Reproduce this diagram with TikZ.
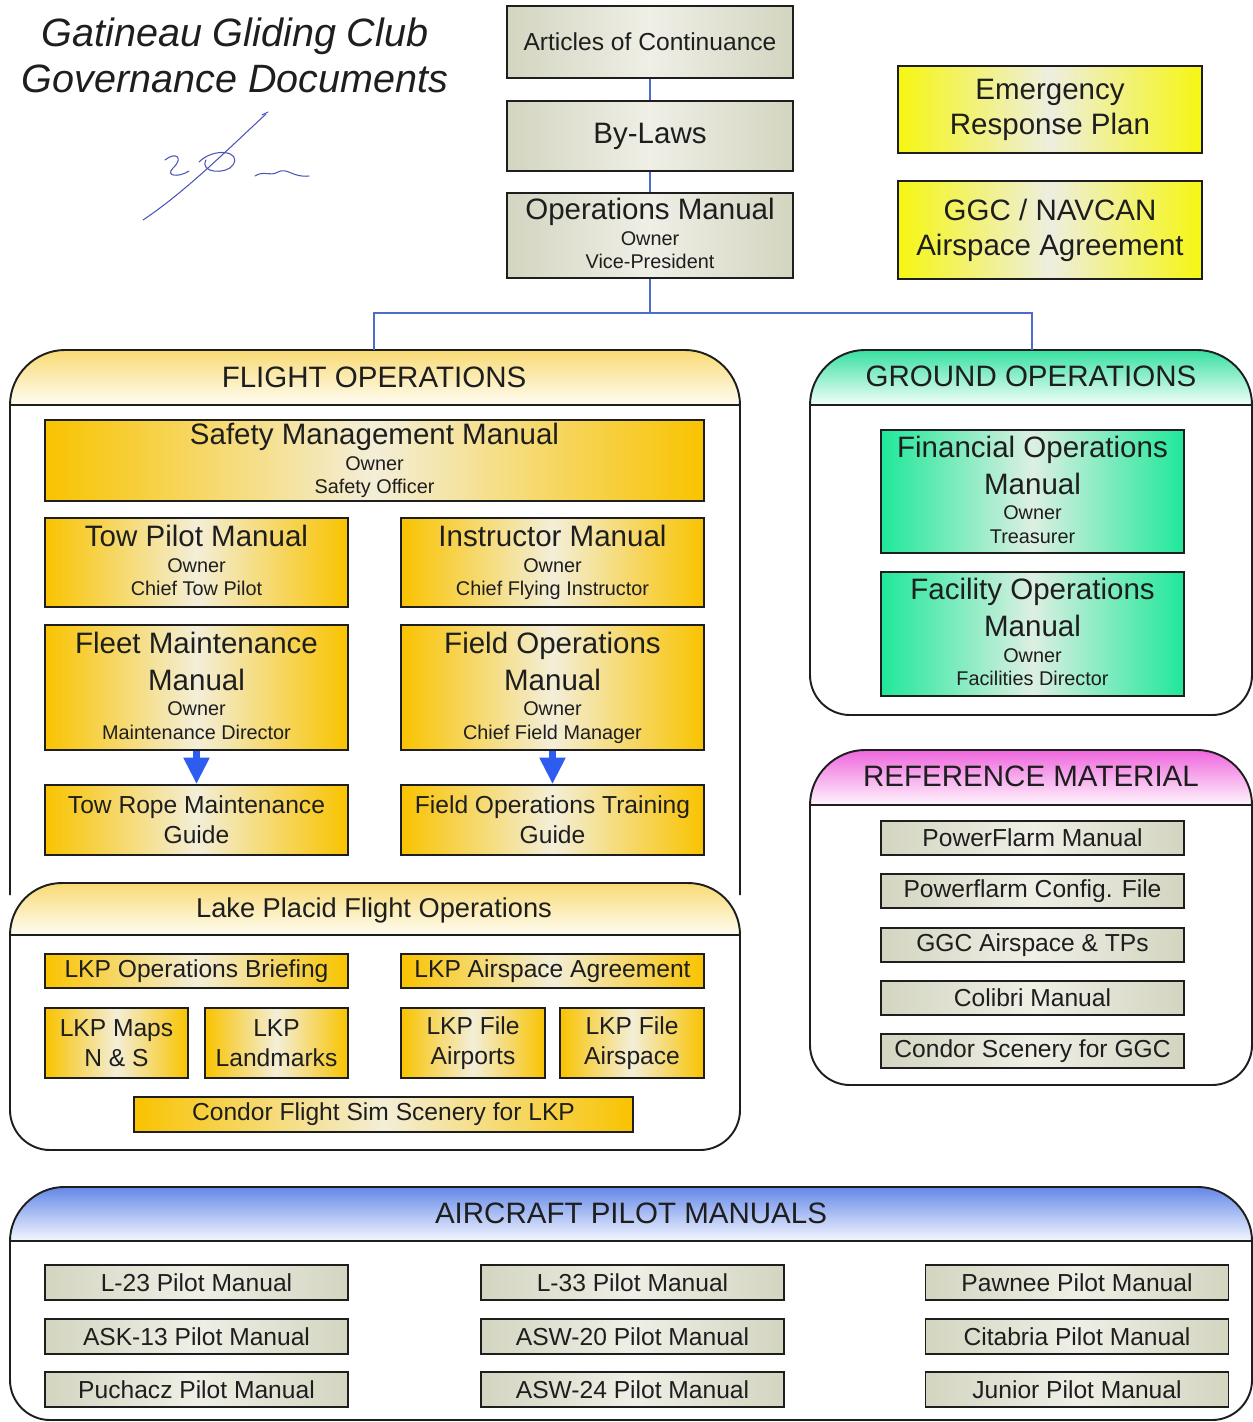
\documentclass[tikz,border=0pt]{standalone}
\usepackage{fontspec}
\setmainfont{Liberation Sans}
\usetikzlibrary{arrows.meta}

\definecolor{ink}{HTML}{1E1E1E}
\definecolor{greyedge}{HTML}{D3D5C0}
\definecolor{greymid}{HTML}{EFEFE6}
\definecolor{goldedge}{HTML}{F9C300}
\definecolor{goldmid}{HTML}{F3EED8}
\definecolor{yellowedge}{HTML}{F6F612}
\definecolor{yellowmid}{HTML}{EEEEE0}
\definecolor{greenedge}{HTML}{1FE89A}
\definecolor{greenmid}{HTML}{DDEFE2}
\definecolor{flighttop}{HTML}{F8DA74}
\definecolor{flightbot}{HTML}{FFFDF3}
\definecolor{groundtop}{HTML}{38E0A2}
\definecolor{groundbot}{HTML}{F3FFF9}
\definecolor{reftop}{HTML}{EE66DD}
\definecolor{refbot}{HTML}{FFF5FD}
\definecolor{planetop}{HTML}{6488E8}
\definecolor{planebot}{HTML}{F5F7FF}
\definecolor{linkblue}{HTML}{4D6BCC}
\definecolor{arrowblue}{HTML}{2E5BF0}
\definecolor{sigblue}{HTML}{4A55B8}

\newcommand\titlesz{\fontsize{22.5}{26.2}\selectfont\itshape}
\newcommand\bigsz{\fontsize{16.8}{20}\selectfont}
\newcommand\lakesz{\fontsize{15.5}{18}\selectfont}
\newcommand\midsz{\fontsize{14}{17}\selectfont}
\newcommand\smallsz{\fontsize{11.3}{13.5}\selectfont}

\tikzset{
  doc/.style={draw=ink, line width=1.1pt, align=center, inner sep=0pt, text=ink},
  boxsize/.style 2 args={minimum width=#1*0.02cm, minimum height=#2*0.02cm},
  greydoc/.style={doc, left color=greyedge, right color=greyedge, middle color=greymid},
  golddoc/.style={doc, left color=goldedge, right color=goldedge, middle color=goldmid},
  yellowdoc/.style={doc, left color=yellowedge, right color=yellowedge, middle color=yellowmid},
  greendoc/.style={doc, left color=greenedge, right color=greenedge, middle color=greenmid},
  panel/.style={draw=ink, line width=1.1pt},
  headtxt/.style={text=ink, inner sep=0pt, anchor=base},
  link/.style={draw=linkblue, line width=1.2pt},
  subarrow/.style={draw=arrowblue, line width=3.5pt, -{Triangle[width=14pt,length=15pt]}},
  sig/.style={draw=sigblue, line width=0.6pt, line cap=round},
}

\begin{document}
\begin{tikzpicture}[x=0.02cm, y=-0.02cm]
    \useasboundingbox (0,0) rectangle (1253,1422);

    % title and signature
    \node[font=\titlesz, align=center, text=ink, inner sep=0pt] (title) at (235,55.5) {Gatineau Gliding Club\\Governance Documents};
    \draw[sig] (268,112) -- (262,115);
    \draw[sig] (266,114) .. controls (225,152) and (185,192) .. (143,220);
    \draw[sig] (165,160) .. controls (176,151) and (184,158) .. (173,168) .. controls (165,176) and (178,178) .. (189,171);
    \draw[sig] (199,162) .. controls (214,147) and (242,151) .. (233,165) .. controls (226,175) and (199,173) .. (206,160);
    \draw[sig] (255,176) .. controls (264,170) and (270,177) .. (278,172) .. controls (287,167) and (293,178) .. (309,176);

    % panels
    \shade[top color=flighttop, bottom color=flightbot] (10,405) .. controls (10,375) and (35,350) .. (65,350) -- (685,350) .. controls (715,350) and (740,375) .. (740,405) -- cycle;
    \draw[panel] (10,895) -- (10,405) .. controls (10,375) and (35,350) .. (65,350) -- (685,350) .. controls (715,350) and (740,375) .. (740,405) -- (740,895);
    \draw[panel] (10,405) -- (740,405);

    \fill[white] (10,935) .. controls (10,906) and (33,883) .. (62,883) -- (688,883) .. controls (717,883) and (740,906) .. (740,935) -- (740,1110) .. controls (740,1132) and (722,1150) .. (700,1150) -- (50,1150) .. controls (28,1150) and (10,1132) .. (10,1110) -- cycle;
    \shade[top color=flighttop, bottom color=flightbot] (10,935) .. controls (10,906) and (33,883) .. (62,883) -- (688,883) .. controls (717,883) and (740,906) .. (740,935) -- cycle;
    \draw[panel] (10,935) .. controls (10,906) and (33,883) .. (62,883) -- (688,883) .. controls (717,883) and (740,906) .. (740,935) -- (740,1110) .. controls (740,1132) and (722,1150) .. (700,1150) -- (50,1150) .. controls (28,1150) and (10,1132) .. (10,1110) -- cycle;
    \draw[panel] (10,935) -- (740,935);

    \shade[top color=groundtop, bottom color=groundbot] (810,405) .. controls (810,375) and (835,350) .. (865,350) -- (1197,350) .. controls (1227,350) and (1252,375) .. (1252,405) -- cycle;
    \draw[panel] (810,405) .. controls (810,375) and (835,350) .. (865,350) -- (1197,350) .. controls (1227,350) and (1252,375) .. (1252,405) -- (1252,675) .. controls (1252,697) and (1234,715) .. (1212,715) -- (850,715) .. controls (828,715) and (810,697) .. (810,675) -- cycle;
    \draw[panel] (810,405) -- (1252,405);

    \shade[top color=reftop, bottom color=refbot] (810,805) .. controls (810,775) and (835,750) .. (865,750) -- (1197,750) .. controls (1227,750) and (1252,775) .. (1252,805) -- cycle;
    \draw[panel] (810,805) .. controls (810,775) and (835,750) .. (865,750) -- (1197,750) .. controls (1227,750) and (1252,775) .. (1252,805) -- (1252,1045) .. controls (1252,1067) and (1234,1085) .. (1212,1085) -- (850,1085) .. controls (828,1085) and (810,1067) .. (810,1045) -- cycle;
    \draw[panel] (810,805) -- (1252,805);

    \shade[top color=planetop, bottom color=planebot] (10,1241) .. controls (10,1212) and (35,1187) .. (64,1187) -- (1198,1187) .. controls (1227,1187) and (1252,1212) .. (1252,1241) -- cycle;
    \draw[panel] (10,1241) .. controls (10,1212) and (35,1187) .. (64,1187) -- (1198,1187) .. controls (1227,1187) and (1252,1212) .. (1252,1241) -- (1252,1380) .. controls (1252,1402) and (1234,1420) .. (1212,1420) -- (50,1420) .. controls (28,1420) and (10,1402) .. (10,1380) -- cycle;
    \draw[panel] (10,1241) -- (1252,1241);

    \node[headtxt, font=\bigsz] (flighthead) at (374,387) {FLIGHT OPERATIONS};
    \node[headtxt, font=\bigsz] (groundhead) at (1031,386) {GROUND OPERATIONS};
    \node[headtxt, font=\lakesz] (lakehead) at (374,917) {Lake Placid Flight Operations};
    \node[headtxt, font=\bigsz] (refhead) at (1031,786) {REFERENCE MATERIAL};
    \node[headtxt, font=\bigsz] (planehead) at (631,1223) {AIRCRAFT PILOT MANUALS};

    % governing documents
    \node[greydoc, boxsize={286}{72}, font=\midsz] (articles) at (650,42) {Articles of Continuance};
    \node[greydoc, boxsize={286}{70}, font=\bigsz] (bylaws) at (650,136) {By-Laws};
    \node[greydoc, boxsize={286}{85}, font=\smallsz] (opsman) at (650,235.5) {\bigsz\strut Operations Manual\\[-2pt]\strut Owner\\\strut Vice-President};
    \node[yellowdoc, boxsize={304}{87}, font=\bigsz] (emergency) at (1050,109.5) {Emergency\\Response Plan};
    \node[yellowdoc, boxsize={304}{98}, font=\bigsz] (navcan) at (1050,230) {GGC / NAVCAN\\Airspace Agreement};

    \coordinate (split) at (650,313);
    \coordinate (flighttop) at (374,350);
    \coordinate (groundtop) at (1032,350);
    \draw[link] (articles) -- (bylaws);
    \draw[link] (bylaws) -- (opsman);
    \draw[link] (opsman) -- (split);
    \draw[link] (flighttop) |- (split) -| (groundtop);

    % flight operations
    \node[golddoc, boxsize={659}{81}, font=\smallsz] (safety) at (374.5,460.5) {\bigsz\strut Safety Management Manual\\[-2pt]\strut Owner\\\strut Safety Officer};
    \node[golddoc, boxsize={303}{89}, font=\smallsz] (towpilot) at (196.5,562.5) {\bigsz\strut Tow Pilot Manual\\[-2pt]\strut Owner\\\strut Chief Tow Pilot};
    \node[golddoc, boxsize={303}{89}, font=\smallsz] (instructor) at (552.5,562.5) {\bigsz\strut Instructor Manual\\[-2pt]\strut Owner\\\strut Chief Flying Instructor};
    \node[golddoc, boxsize={303}{125}, font=\smallsz] (fleet) at (196.5,687.5) {\bigsz\strut Fleet Maintenance\\\bigsz\strut Manual\\[-2pt]\strut Owner\\\strut Maintenance Director};
    \node[golddoc, boxsize={303}{125}, font=\smallsz] (fieldops) at (552.5,687.5) {\bigsz\strut Field Operations\\\bigsz\strut Manual\\[-2pt]\strut Owner\\\strut Chief Field Manager};
    \node[golddoc, boxsize={303}{70}, font=\midsz] (towrope) at (196.5,820) {Tow Rope Maintenance\\Guide};
    \node[golddoc, boxsize={303}{70}, font=\midsz] (fieldtrain) at (552.5,820) {Field Operations Training\\Guide};
    \draw[subarrow] (fleet) -- (towrope);
    \draw[subarrow] (fieldops) -- (fieldtrain);

    % lake placid
    \node[golddoc, boxsize={303}{34}, font=\midsz] (lkpbrief) at (196.5,971) {LKP Operations Briefing};
    \node[golddoc, boxsize={303}{34}, font=\midsz] (lkpagree) at (552.5,971) {LKP Airspace Agreement};
    \node[golddoc, boxsize={143}{70}, font=\midsz] (lkpmaps) at (116.5,1043) {LKP Maps\\N \& S};
    \node[golddoc, boxsize={143}{70}, font=\midsz] (lkplandmarks) at (276.5,1043) {LKP\\Landmarks};
    \node[golddoc, boxsize={144}{70}, font=\midsz] (lkpairports) at (473,1043) {LKP File\\Airports};
    \node[golddoc, boxsize={144}{70}, font=\midsz] (lkpairspace) at (632,1043) {LKP File\\Airspace};
    \node[golddoc, boxsize={499}{35}, font=\midsz] (lkpcondor) at (383.5,1114.5) {Condor Flight Sim Scenery for LKP};

    % ground operations
    \node[greendoc, boxsize={303}{123}, font=\smallsz] (finops) at (1032.5,491.5) {\bigsz\strut Financial Operations\\\bigsz\strut Manual\\[-2pt]\strut Owner\\\strut Treasurer};
    \node[greendoc, boxsize={303}{124}, font=\smallsz] (facility) at (1032.5,634) {\bigsz\strut Facility Operations\\\bigsz\strut Manual\\[-2pt]\strut Owner\\\strut Facilities Director};

    % reference material
    \node[greydoc, boxsize={303}{34}, font=\midsz] (powerflarm) at (1032.5,838) {PowerFlarm Manual};
    \node[greydoc, boxsize={303}{34}, font=\midsz] (flarmconfig) at (1032.5,891) {Powerflarm Config. File};
    \node[greydoc, boxsize={303}{34}, font=\midsz] (ggctps) at (1032.5,945) {GGC Airspace \& TPs};
    \node[greydoc, boxsize={303}{34}, font=\midsz] (colibri) at (1032.5,998) {Colibri Manual};
    \node[greydoc, boxsize={303}{34}, font=\midsz] (condorggc) at (1032.5,1051) {Condor Scenery for GGC};

    % aircraft pilot manuals
    \node[greydoc, boxsize={303}{35}, font=\midsz] (l23) at (196.5,1282.5) {L-23 Pilot Manual};
    \node[greydoc, boxsize={303}{35}, font=\midsz] (ask13) at (196.5,1336.5) {ASK-13 Pilot Manual};
    \node[greydoc, boxsize={303}{35}, font=\midsz] (puchacz) at (196.5,1389.5) {Puchacz Pilot Manual};
    \node[greydoc, boxsize={303}{35}, font=\midsz] (l33) at (632.5,1282.5) {L-33 Pilot Manual};
    \node[greydoc, boxsize={303}{35}, font=\midsz] (asw20) at (632.5,1336.5) {ASW-20 Pilot Manual};
    \node[greydoc, boxsize={303}{35}, font=\midsz] (asw24) at (632.5,1389.5) {ASW-24 Pilot Manual};
    \node[greydoc, boxsize={303}{35}, font=\midsz] (pawnee) at (1077,1282.5) {Pawnee Pilot Manual};
    \node[greydoc, boxsize={303}{35}, font=\midsz] (citabria) at (1077,1336.5) {Citabria Pilot Manual};
    \node[greydoc, boxsize={303}{35}, font=\midsz] (junior) at (1077,1389.5) {Junior Pilot Manual};
\end{tikzpicture}
\end{document}
